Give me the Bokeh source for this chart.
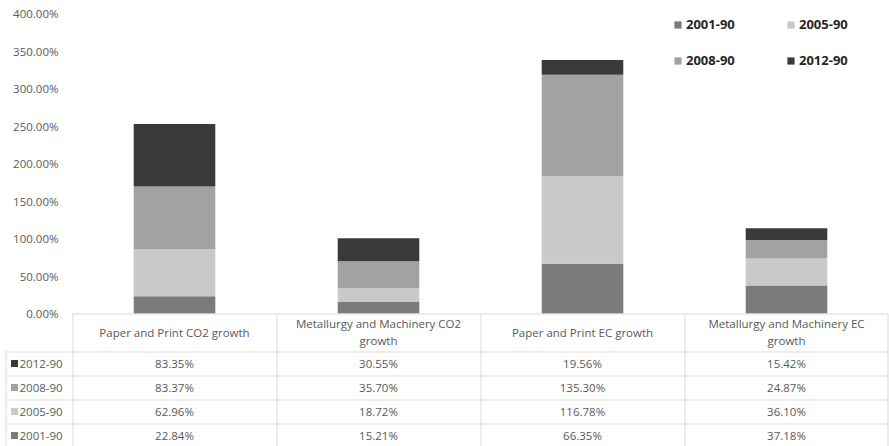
from bokeh.plotting import figure
from bokeh.models import Range1d, FixedTicker, PrintfTickFormatter, ColumnDataSource, Legend
from bokeh.core.properties import value
from bokeh.embed import file_html
from bokeh.resources import INLINE

categories = ["Paper and Print CO2 growth", "Metallurgy and Machinery CO2 growth",
              "Paper and Print EC growth", "Metallurgy and Machinery EC growth"]
header_labels = ["Paper and Print CO2 growth", "Metallurgy and Machinery CO2\ngrowth",
                 "Paper and Print EC growth", "Metallurgy and Machinery EC\ngrowth"]
series = ["2001-90", "2005-90", "2008-90", "2012-90"]
v2001 = [22.84, 15.21, 66.35, 37.18]
v2005 = [62.96, 18.72, 116.78, 36.10]
v2008 = [83.37, 35.70, 135.30, 24.87]
v2012 = [83.35, 30.55, 19.56, 15.42]
colors = ["#7b7b7b", "#c8c9c8", "#a2a2a2", "#3a3a3a"]
y_ticks = [0, 50, 100, 150, 200, 250, 300, 350, 400]

FONT = "Open Sans"
TXT = "#595959"
GRIDC = "#d9d9d9"

vals = {"2001-90": v2001, "2005-90": v2005, "2008-90": v2008, "2012-90": v2012}
n = len(categories)

# layout constants (pixels)
W, H = 889, 446
left_px, top_px = 72, 13
colw = (W - left_px - 1) / n     # pixel width of one category column
upp = 400.0 / 300.0              # % per pixel (y)
y_top = 400.0 + top_px * upp
y_bottom = 400.0 - (H - top_px) * upp
header_h, row_h = 38, 24

p = figure(width=W, height=H,
           x_range=Range1d(-left_px / colw, (W - left_px) / colw),
           y_range=Range1d(y_bottom, y_top),
           output_backend="svg", toolbar_location=None, min_border=0)
p.xaxis.visible = False
p.xgrid.visible = False
p.ygrid.visible = False
p.outline_line_color = None

# bars
xs = [i + 0.5 for i in range(n)]
src = ColumnDataSource(dict(x=xs, **vals))
rs = p.vbar_stack(series, x="x", width=0.4, color=colors, line_color=None, source=src)

# y axis, drawn at the left edge of the first category column
ax = p.yaxis[0]
ax.fixed_location = 0
ax.ticker = FixedTicker(ticks=y_ticks, minor_ticks=[])
ax.formatter = PrintfTickFormatter(format="%.2f%%")
ax.axis_line_color = None
ax.major_tick_line_color = None
ax.major_tick_out = 0
ax.major_tick_in = 0
ax.minor_tick_line_color = None
ax.major_label_text_font = FONT
ax.major_label_text_font_size = "11.5px"
ax.major_label_text_color = TXT
ax.major_label_standoff = 14

# table geometry in data units
def ypx(px_below_zero):
    return -px_below_zero * upp

row_bounds = [ypx(header_h + row_h * r) for r in range(len(series))]
row_centers = [ypx(header_h + row_h * r + row_h / 2) for r in range(len(series))]
key_left = -(left_px - 5) / colw
dx = 0.5 / colw
dy = 0.5 * upp

# table lines
hx0 = [0] + [key_left] * len(row_bounds)
hx1 = [n - dx] * (len(row_bounds) + 1)
hy = [-dy] + [b - dy for b in row_bounds]
p.segment(x0=hx0, x1=hx1, y0=hy, y1=hy, line_color=GRIDC, line_width=1)
vx = [i + dx for i in range(n)] + [n - dx, key_left + dx]
vy0 = [0] * (n + 1) + [row_bounds[0]]
p.segment(x0=vx, x1=vx, y0=vy0, y1=[y_bottom] * len(vx), line_color=GRIDC, line_width=1)

# header texts
p.text(x=xs, y=[ypx(header_h / 2 - 0.5)] * n, text=header_labels,
       text_align="center", text_baseline="middle", text_font=value(FONT),
       text_font_size="11.5px", text_color=TXT, text_line_height=1.15)

# values (top row = last series)
row_series = list(reversed(series))
row_colors = list(reversed(colors))
tx, ty, tt = [], [], []
for r, s in enumerate(row_series):
    for i in range(n):
        tx.append(xs[i]); ty.append(row_centers[r]); tt.append(f"{vals[s][i]:.2f}%")
p.text(x=tx, y=ty, text=tt, text_align="center", text_baseline="middle",
       text_font=value(FONT), text_font_size="11.5px", text_color=TXT)

# key column of the table
p.rect(x=[-(left_px - 14) / colw] * len(series), y=row_centers, width=7, height=7,
       width_units="screen", height_units="screen", fill_color=row_colors, line_color=None)
p.text(x=[-(left_px - 19) / colw] * len(series), y=row_centers, text=row_series,
       text_align="left", text_baseline="middle", text_font=value(FONT),
       text_font_size="11.5px", text_color=TXT)

# series legend (top right)
legend = Legend(items=[(s, [r]) for s, r in zip(series, rs)], location=(673, H - 73),
                orientation="horizontal", ncols=2)
legend.label_text_font = FONT
legend.label_text_font_style = "bold"
legend.label_text_font_size = "13px"
legend.label_text_color = "#262626"
legend.glyph_width = 9
legend.glyph_height = 9
legend.label_standoff = 4
legend.label_width = 90
legend.label_height = 26
legend.spacing = 10
legend.padding = 0
legend.margin = 0
legend.border_line_color = None
legend.background_fill_alpha = 0
p.add_layout(legend)

open("out.html", "w").write(file_html(p, INLINE))
